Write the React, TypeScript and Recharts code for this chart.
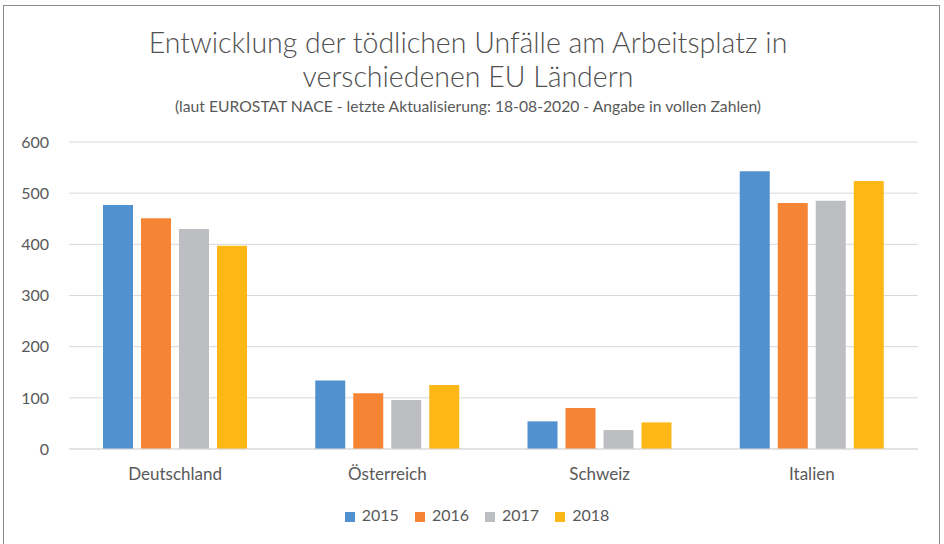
import React from "react";
import { BarChart, Bar, XAxis, YAxis, CartesianGrid, Legend } from "recharts";

const COUNTRIES = ["Deutschland", "Österreich", "Schweiz", "Italien"];
const YEARS = ["2015", "2016", "2017", "2018"];
const V2015 = [477, 134, 54, 543];
const V2016 = [451, 109, 80, 481];
const V2017 = [430, 96, 37, 485];
const V2018 = [397, 125, 52, 524];
const Y_TICKS = [0, 100, 200, 300, 400, 500, 600];

const COLORS = ["#5291CF", "#F58535", "#BDBEC1", "#FDB817"];
const TEXT = "#595959";
const FONT = "Lato, 'Open Sans', sans-serif";

const chartData = COUNTRIES.map((name, i) => ({
  name,
  "2015": V2015[i],
  "2016": V2016[i],
  "2017": V2017[i],
  "2018": V2018[i],
}));

export default function App() {
  return (
    <div style={{ position: "absolute", left: 0, top: 0, width: 944, height: 544, overflow: "hidden", background: "#fff", fontFamily: FONT }}>
      {/* chart frame */}
      <div style={{ position: "absolute", left: 3, top: 5, width: 937, height: 560, border: "1px solid #8c8c8c", boxSizing: "border-box" }} />
      <div style={{ position: "absolute", left: 0, top: 25, width: 936, textAlign: "center", color: "#505050", fontSize: 28.5, fontWeight: 300, lineHeight: "34px" }}>
        Entwicklung der tödlichen Unfälle am Arbeitsplatz in
        <br />
        verschiedenen EU Ländern
      </div>
      <div style={{ position: "absolute", left: 0, top: 97, width: 936, textAlign: "center", color: TEXT, fontSize: 15.7 }}>
        (laut EUROSTAT NACE - letzte Aktualisierung: 18-08-2020 - Angabe in vollen Zahlen)
      </div>
      <div style={{ position: "absolute", left: 0, top: 0 }}>
        <BarChart
          width={944}
          height={544}
          data={chartData}
          margin={{ top: 142, right: 26, left: 0, bottom: 65 }}
          barGap={8}
          barCategoryGap={34}
        >
          <CartesianGrid vertical={false} stroke="#d9d9d9" />
          <XAxis
            dataKey="name"
            height={30}
            tickLine={false}
            axisLine={{ stroke: "#d9d9d9" }}
            tick={{ fill: TEXT, fontSize: 17, fontFamily: FONT }}
            tickMargin={13}
          />
          <YAxis
            width={69}
            domain={[0, 600]}
            ticks={Y_TICKS}
            tickLine={false}
            axisLine={false}
            tick={{ fill: TEXT, fontSize: 16, fontFamily: FONT }}
            tickMargin={14}
          />
          <Legend
            verticalAlign="middle"
            layout="horizontal"
            align="center"
            iconType="square"
            iconSize={10}
            wrapperStyle={{ top: 505, left: 13, width: 944, fontSize: 16, fontFamily: FONT }}
            formatter={(value) => <span style={{ color: TEXT, marginLeft: 3, marginRight: 6 }}>{value}</span>}
          />
          {YEARS.map((y, i) => (
            <Bar key={y} dataKey={y} fill={COLORS[i]} isAnimationActive={false} />
          ))}
        </BarChart>
      </div>
    </div>
  );
}
